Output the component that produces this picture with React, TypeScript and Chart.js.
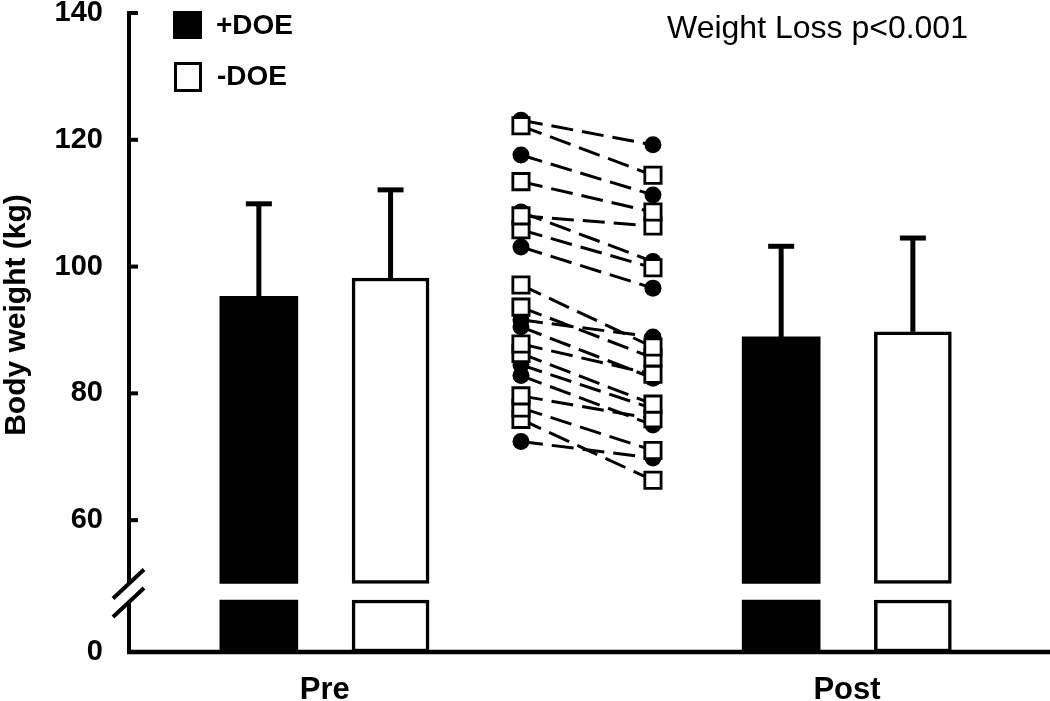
import React, { useEffect, useRef } from 'react';
import { Chart, registerables } from 'chart.js';

Chart.register(...registerables);

// ---------------- data ----------------
const CATEGORIES = ['Pre', 'Post'];
const SERIES = ['+DOE', '-DOE'];

const MEAN_DOE_POS = [95.3, 88.9];
const SD_DOE_POS = [14.6, 14.3];
const MEAN_DOE_NEG = [98.2, 89.7];
const SD_DOE_NEG = [13.9, 14.8];

// individual subjects (kg)
const IND_DOE_POS_PRE = [123.1, 117.6, 108.6, 103.1, 91.6, 90.5, 84.5, 82.8, 72.4];
const IND_DOE_POS_POST = [119.2, 111.3, 100.8, 96.6, 88.9, 82.4, 77.6, 75.0, 69.8];
const IND_DOE_NEG_PRE = [122.2, 113.4, 108.0, 105.8, 97.1, 93.6, 87.8, 86.3, 79.6, 77.7, 75.9];
const IND_DOE_NEG_POST = [114.4, 108.6, 106.4, 99.8, 87.3, 85.6, 83.0, 78.3, 76.0, 71.0, 66.3];

const Y_TICKS = [0, 60, 80, 100, 120, 140];
const Y_TITLE = 'Body weight (kg)';
const ANNOTATION = 'Weight Loss p<0.001';

// ---------------- broken axis ----------------
const BREAK_LOW = 8.2; // top of lower stub (kg)
const BREAK_HIGH = 50; // bottom of upper segment (kg)
const LOW_SHIFT = 39.2; // axis offset for values drawn below the break
const toAxis = (v: number) => (v >= BREAK_HIGH ? v : v + LOW_SHIFT);

// ---------------- layout ----------------
const X_MAX = 10;
const CAT_X = [2.125, 7.796];
const BAR_OFFSET = 0.715;
const IND_X = [4.256, 5.689];

const FONT = '"Liberation Sans", Arial, Helvetica, sans-serif';

const barData = (means: number[], dx: number) =>
  CATEGORIES.flatMap((_, i) => [
    { x: CAT_X[i] + dx, y: [toAxis(0), toAxis(BREAK_LOW)] },
    { x: CAT_X[i] + dx, y: [BREAK_HIGH, means[i]] },
  ]);

const subjectLines = (pre: number[], post: number[], filled: boolean) =>
  pre.map((p, k) => ({
    type: 'line' as const,
    label: 'subject',
    data: [
      { x: IND_X[0], y: p },
      { x: IND_X[1], y: post[k] },
    ],
    borderColor: '#000',
    borderWidth: 3,
    borderDash: [22, 9],
    fill: false,
    tension: 0,
    pointStyle: filled ? 'circle' : 'rect',
    pointRadius: filled ? 8.5 : 11.5,
    pointBackgroundColor: filled ? '#000' : '#fff',
    pointBorderColor: '#000',
    pointBorderWidth: filled ? 0 : 2.8,
  }));

const errorBarPlugin = {
  id: 'errorBars',
  afterDatasetsDraw(chart: any) {
    const { ctx, scales } = chart;
    const x = scales.x;
    const y = scales.y;
    const groups = [
      { mean: MEAN_DOE_POS, sd: SD_DOE_POS, dx: -BAR_OFFSET },
      { mean: MEAN_DOE_NEG, sd: SD_DOE_NEG, dx: BAR_OFFSET },
    ];
    ctx.save();
    ctx.strokeStyle = '#000';
    ctx.lineWidth = 5;
    groups.forEach((g) =>
      g.mean.forEach((m, i) => {
        const px = x.getPixelForValue(CAT_X[i] + g.dx);
        const y0 = y.getPixelForValue(m);
        const y1 = y.getPixelForValue(m + g.sd[i]);
        ctx.beginPath();
        ctx.moveTo(px, y0);
        ctx.lineTo(px, y1);
        ctx.stroke();
        ctx.beginPath();
        ctx.moveTo(px - 13, y1);
        ctx.lineTo(px + 13, y1);
        ctx.stroke();
      })
    );
    ctx.restore();
  },
};

const axesPlugin = {
  id: 'brokenAxes',
  afterDatasetsDraw(chart: any) {
    const { ctx, chartArea, scales } = chart;
    const y = scales.y;
    const left = chartArea.left;
    const bottom = chartArea.bottom;
    const yHigh = y.getPixelForValue(BREAK_HIGH);
    const yLow = y.getPixelForValue(toAxis(BREAK_LOW));
    ctx.save();
    ctx.strokeStyle = '#000';
    ctx.lineCap = 'butt';
    ctx.lineWidth = 4;
    ctx.beginPath();
    ctx.moveTo(left, chartArea.top - 2);
    ctx.lineTo(left, yHigh);
    ctx.stroke();
    ctx.beginPath();
    ctx.moveTo(left, yLow + 2);
    ctx.lineTo(left, bottom);
    ctx.stroke();
    ctx.lineWidth = 4.5;
    ctx.beginPath();
    ctx.moveTo(left - 2, bottom);
    ctx.lineTo(chartArea.right, bottom);
    ctx.stroke();
    ctx.lineWidth = 4;
    Y_TICKS.filter((t) => t >= BREAK_HIGH).forEach((t) => {
      const py = y.getPixelForValue(toAxis(t));
      ctx.beginPath();
      ctx.moveTo(left, py);
      ctx.lineTo(left + 9, py);
      ctx.stroke();
    });
    [yHigh, yLow + 2].forEach((py) => {
      ctx.beginPath();
      ctx.moveTo(left - 16, py + 15);
      ctx.lineTo(left + 15, py - 14);
      ctx.stroke();
    });
    ctx.restore();
  },
};

const decorPlugin = {
  id: 'decor',
  afterDraw(chart: any) {
    const { ctx, chartArea } = chart;
    const lx = chartArea.left + 44;
    ctx.save();
    // legend
    ctx.fillStyle = '#000';
    ctx.fillRect(lx, 11, 29, 28);
    ctx.strokeStyle = '#000';
    ctx.lineWidth = 3;
    ctx.strokeRect(lx + 2.5, 63.5, 25, 27);
    ctx.font = `bold 28px ${FONT}`;
    ctx.textBaseline = 'middle';
    ctx.textAlign = 'left';
    ctx.fillText(SERIES[0], lx + 43, 26);
    ctx.fillText(SERIES[1], lx + 44, 77);
    // annotation
    ctx.font = `32px ${FONT}`;
    ctx.textBaseline = 'alphabetic';
    ctx.fillText(ANNOTATION, 667, 38);
    // y title
    ctx.font = `bold 30px ${FONT}`;
    ctx.translate(17, 315);
    ctx.rotate(-Math.PI / 2);
    ctx.textAlign = 'center';
    ctx.textBaseline = 'middle';
    ctx.fillText(Y_TITLE, 0, 0);
    ctx.restore();
  },
};

export default function App() {
  const ref = useRef<HTMLCanvasElement | null>(null);

  useEffect(() => {
    if (!ref.current) return;
    Chart.defaults.font.family = FONT;
    const chart = new Chart(ref.current, {
      type: 'bar',
      data: {
        datasets: [
          {
            type: 'bar',
            label: SERIES[0],
            data: barData(MEAN_DOE_POS, -BAR_OFFSET) as any,
            backgroundColor: '#000',
            borderWidth: 0,
            barThickness: 78,
            grouped: false,
          },
          {
            type: 'bar',
            label: SERIES[1],
            data: barData(MEAN_DOE_NEG, BAR_OFFSET) as any,
            backgroundColor: '#fff',
            borderColor: '#000',
            borderWidth: 3.5,
            borderSkipped: false,
            barThickness: 77,
            grouped: false,
          },
          ...subjectLines(IND_DOE_NEG_PRE, IND_DOE_NEG_POST, false),
          ...subjectLines(IND_DOE_POS_PRE, IND_DOE_POS_POST, true),
        ] as any,
      },
      options: {
        animation: false,
        responsive: true,
        maintainAspectRatio: false,
        layout: { autoPadding: false, padding: { top: 13, right: 0, bottom: 0, left: 0 } },
        plugins: {
          legend: { display: false },
          tooltip: { enabled: false },
          title: { display: false },
        },
        events: [],
        scales: {
          x: {
            type: 'linear',
            min: 0,
            max: X_MAX,
            offset: false,
            grid: { display: false, drawTicks: false, offset: false },
            border: { display: false },
            afterBuildTicks: (scale: any) => {
              scale.ticks = CAT_X.map((v) => ({ value: v }));
            },
            afterFit: (scale: any) => {
              scale.height = 49;
              scale.paddingLeft = 0;
              scale.paddingRight = 0;
            },
            ticks: {
              autoSkip: false,
              maxRotation: 0,
              padding: 20,
              color: '#000',
              font: { size: 31, weight: 'bold' },
              callback: (_v: any, i: number) => CATEGORIES[i],
            },
          },
          y: {
            type: 'linear',
            min: toAxis(0),
            max: 140,
            grid: { display: false, drawTicks: false },
            border: { display: false },
            afterBuildTicks: (scale: any) => {
              scale.ticks = Y_TICKS.map((t) => ({ value: toAxis(t) }));
            },
            afterFit: (scale: any) => {
              scale.width = 129;
              scale.paddingTop = 0;
              scale.paddingBottom = 0;
            },
            ticks: {
              autoSkip: false,
              padding: 26,
              color: '#000',
              font: { size: 29, weight: 'bold' },
              callback: (_v: any, i: number) => String(Y_TICKS[i]),
            },
          },
        },
      } as any,
      plugins: [errorBarPlugin, axesPlugin, decorPlugin],
    });
    return () => chart.destroy();
  }, []);

  return (
    <div style={{ position: 'fixed', left: 0, top: 0, width: 1050, height: 701, background: '#fff' }}>
      <canvas ref={ref} />
    </div>
  );
}
